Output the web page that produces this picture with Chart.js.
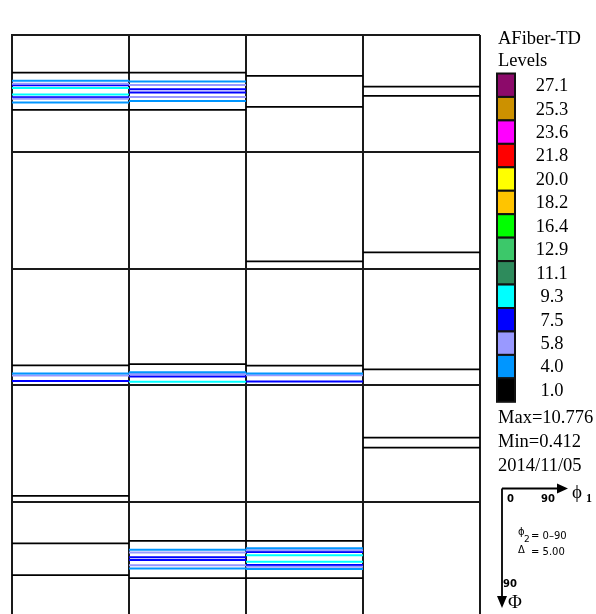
<!DOCTYPE html>
<html>
<head>
<meta charset="utf-8">
<script src="https://cdn.jsdelivr.net/npm/chart.js@4.4.1/dist/chart.umd.min.js"></script>
<style>
    html, body { margin: 0; padding: 0; background: #fff; overflow: hidden; }
    #odf { display: block; }
</style>
</head>
<body>
<canvas id="odf" width="596" height="622"></canvas>
<script>
// contour levels (legend, top to bottom)
const levelValues = ['27.1', '25.3', '23.6', '21.8', '20.0', '18.2', '16.4', '12.9', '11.1', '9.3', '7.5', '5.8', '4.0', '1.0'];
const levelColors = ['#8c0a6a', '#cc9100', '#ff00ff', '#ff0000', '#ffff00', '#ffc400', '#00ff00', '#3cc86a', '#2e8b5c', '#00ffff', '#0000ff', '#9999ff', '#0096ff', '#000000'];

// ODF sections: phi2 = 0..90 step 5, 4 per row; each section spans phi1 0-90, PHI 0-90
const sectionsPerRow = 4;
const sectionRows = 5;

// contour lines as [section index, PHI in degrees]
const level1_0 = [[0, 29.0], [0, 57.7], [1, 29.0], [1, 57.7], [2, 31.5], [2, 55.4], [3, 39.8], [3, 46.9],
    [6, 84.4], [7, 77.5], [8, 74.6], [9, 73.6], [10, 74.8], [11, 77.7], [12, 85.1],
    [15, 40.2], [15, 47.9], [16, 31.8], [16, 56.2], [17, 29.8], [17, 58.5], [18, 29.8], [18, 58.5]];
const level4_0 = [[0, 35.2], [0, 52.1], [1, 35.9], [1, 50.8], [8, 80.8], [9, 79.8], [10, 80.8],
    [17, 36.7], [17, 51.0], [18, 35.4], [18, 51.5]];
const level5_8 = [[0, 37.5], [0, 49.2], [1, 38.6], [1, 47.8], [8, 82.4], [9, 81.2], [10, 82.2],
    [17, 38.8], [17, 48.6], [18, 37.0], [18, 49.7]];
const level7_5 = [[0, 38.7], [0, 47.9], [1, 41.8], [1, 44.4], [8, 86.7], [9, 83.2], [10, 87.0],
    [17, 42.5], [17, 44.6], [18, 38.4], [18, 48.3]];
const level9_3 = [[0, 40.8], [0, 45.9], [9, 87.2], [18, 40.8], [18, 45.9]];

const contourSets = [
    { lines: level1_0, color: levelColors[13], width: 1.8 },
    { lines: level4_0, color: levelColors[12], width: 2 },
    { lines: level5_8, color: levelColors[11], width: 2 },
    { lines: level7_5, color: levelColors[10], width: 2 },
    { lines: level9_3, color: levelColors[9], width: 2 },
];

const datasets = [];
contourSets.forEach((set) => {
    set.lines.forEach(([section, phi]) => {
        const col = section % sectionsPerRow;
        const row = Math.floor(section / sectionsPerRow);
        const y = row * 90 + phi;
        datasets.push({
            data: [{ x: col * 90, y }, { x: (col + 1) * 90, y }],
            borderColor: set.color,
            borderWidth: set.width,
            pointRadius: 0,
            showLine: true,
        });
    });
});

const legendPlugin = {
    id: 'odfLegend',
    afterDraw(chart) {
        const ctx = chart.ctx;
        ctx.save();
        ctx.fillStyle = '#000';
        ctx.textBaseline = 'middle';
        ctx.font = '18.5px "Liberation Serif"';
        ctx.textAlign = 'left';
        ctx.fillText('AFiber-TD', 498, 39);
        ctx.fillText('Levels', 498, 61);

        const boxTop = 73.5;
        const boxH = 23.45;
        levelValues.forEach((label, i) => {
            const y = boxTop + i * boxH;
            ctx.fillStyle = levelColors[i];
            ctx.fillRect(497, y, 18, boxH);
            ctx.strokeStyle = '#111';
            ctx.lineWidth = 2;
            ctx.strokeRect(497, y, 18, boxH);
            ctx.fillStyle = '#000';
            ctx.textAlign = 'center';
            ctx.fillText(label, 552, y + boxH / 2 + 1);
        });

        ctx.textAlign = 'left';
        ctx.fillText('Max=10.776', 498, 418);
        ctx.fillText('Min=0.412', 498, 442);
        ctx.fillText('2014/11/05', 498, 466);

        // axis key
        ctx.strokeStyle = '#000';
        ctx.lineWidth = 1.8;
        ctx.beginPath();
        ctx.moveTo(502, 488.5);
        ctx.lineTo(560, 488.5);
        ctx.moveTo(502, 488.5);
        ctx.lineTo(502, 598);
        ctx.stroke();
        ctx.beginPath();
        ctx.moveTo(568, 488.5);
        ctx.lineTo(557, 483.5);
        ctx.lineTo(557, 493.5);
        ctx.closePath();
        ctx.moveTo(502, 608);
        ctx.lineTo(497, 596);
        ctx.lineTo(507, 596);
        ctx.closePath();
        ctx.fill();

        ctx.font = 'bold 10px "DejaVu Sans"';
        ctx.fillText('0', 507, 499);
        ctx.fillText('90', 541, 499);
        ctx.fillText('90', 503, 584);
        ctx.font = '10px "DejaVu Sans"';
        ctx.fillText('ϕ', 518, 532);
        ctx.font = '9px "DejaVu Sans"';
        ctx.fillText('2', 524, 540);
        ctx.font = '10px "DejaVu Sans"';
        ctx.fillText('= 0–90', 531, 536);
        ctx.fillText('Δ', 518, 550);
        ctx.fillText('= 5.00', 531, 552);
        ctx.font = '19px "Liberation Serif"';
        ctx.fillText('ϕ', 572, 493);
        ctx.fillText('Φ', 508, 603);
        ctx.font = 'bold 12px "Liberation Serif"';
        ctx.fillText('1', 586, 499);
        ctx.restore();
    },
};

new Chart(document.getElementById('odf'), {
    type: 'scatter',
    data: { datasets },
    options: {
        responsive: false,
        animation: false,
        layout: { padding: { left: 12, top: 35, right: 116, bottom: 3 } },
        plugins: { legend: { display: false }, tooltip: { enabled: false } },
        scales: {
            x: {
                type: 'linear',
                min: 0,
                max: sectionsPerRow * 90,
                ticks: { display: false, stepSize: 90 },
                grid: { color: '#1a1a1a', lineWidth: 2, drawTicks: false },
                border: { color: '#1a1a1a', width: 2 },
            },
            y: {
                type: 'linear',
                reverse: true,
                min: 0,
                max: sectionRows * 90,
                ticks: { display: false, stepSize: 90 },
                grid: { color: '#1a1a1a', lineWidth: 2, drawTicks: false },
                border: { color: '#1a1a1a', width: 2 },
            },
        },
    },
    plugins: [legendPlugin],
});
</script>
</body>
</html>
